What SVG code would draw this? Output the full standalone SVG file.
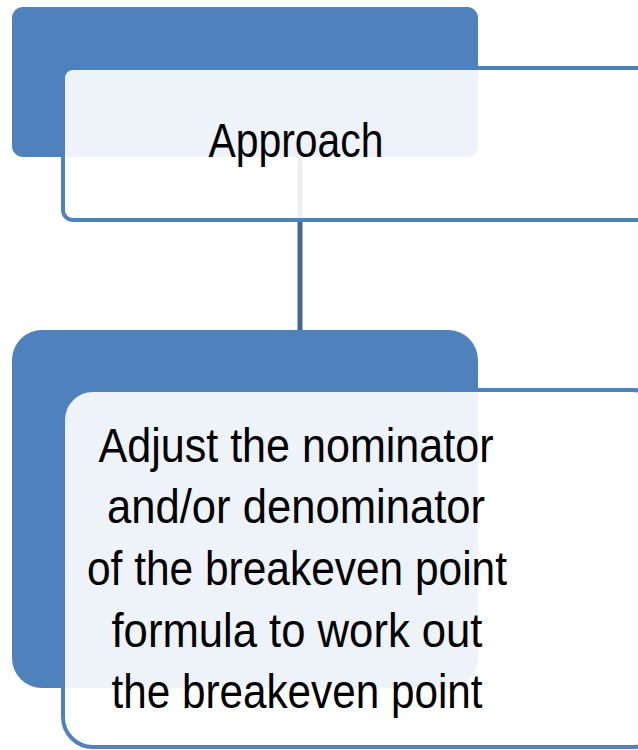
<svg xmlns="http://www.w3.org/2000/svg" width="638" height="750" viewBox="0 0 638 750">
  <style>
    .back { fill: #4f81bd; }
    .card { fill: #ffffff; fill-opacity: 0.9; stroke: #4f81bd; stroke-width: 4; }
    .link { stroke: #3f6797; stroke-width: 5; fill: none; }
    .label { font-family: "Liberation Sans", Arial, sans-serif; font-size: 48px; fill: #000000; text-anchor: middle; }
  </style>
  <rect width="638" height="750" fill="#ffffff"/>
  <g id="connectors">
    <line class="link" x1="300" y1="157" x2="300" y2="332"/>
  </g>
  <g id="node-approach">
    <rect class="back" x="12" y="7" width="466" height="150" rx="11"/>
    <rect class="card" x="63" y="68" width="600" height="152" rx="10"/>
    <text class="label" x="296" y="157" textLength="175" lengthAdjust="spacingAndGlyphs">Approach</text>
  </g>
  <g id="node-adjust">
    <rect class="back" x="12" y="330" width="466" height="358" rx="30"/>
    <rect class="card" x="63" y="390" width="600" height="357" rx="30"/>
    <text class="label" x="296" y="462" textLength="395" lengthAdjust="spacingAndGlyphs">Adjust the nominator</text>
    <text class="label" x="296" y="523" textLength="378" lengthAdjust="spacingAndGlyphs">and/or denominator</text>
    <text class="label" x="297" y="585" textLength="420" lengthAdjust="spacingAndGlyphs">of the breakeven point</text>
    <text class="label" x="297" y="647" textLength="371" lengthAdjust="spacingAndGlyphs">formula to work out</text>
    <text class="label" x="297" y="708" textLength="371" lengthAdjust="spacingAndGlyphs">the breakeven point</text>
  </g>
</svg>
